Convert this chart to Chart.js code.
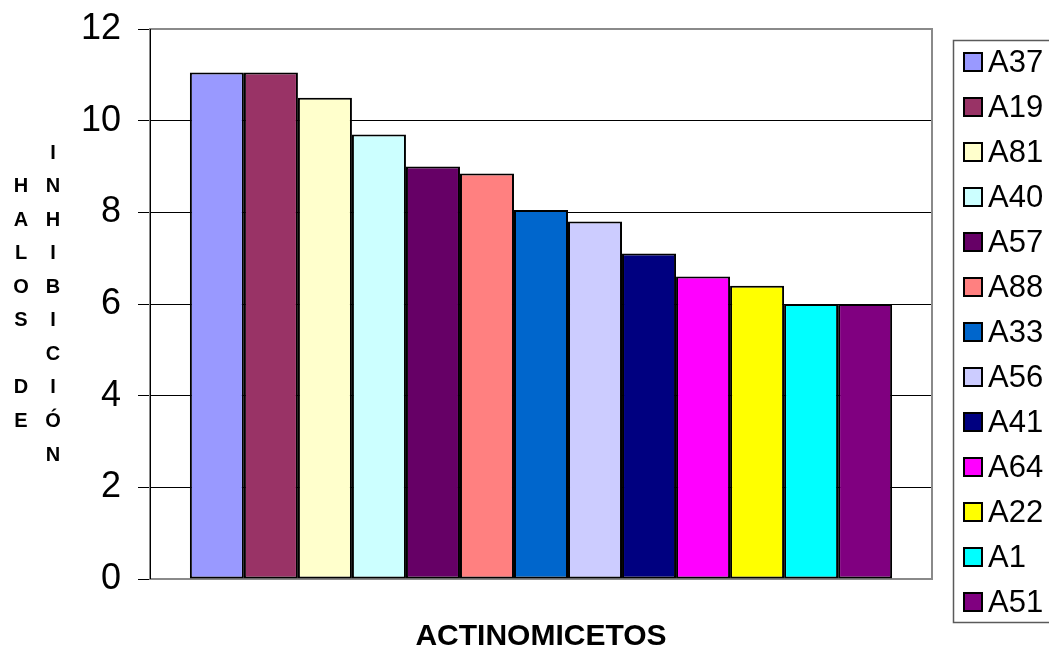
<!DOCTYPE html>
<html>
<head>
<meta charset="utf-8">
<script src="https://cdn.jsdelivr.net/npm/chart.js@4"></script>
<style>
html, body { margin: 0; padding: 0; background: #fff; }
canvas { display: block; }
</style>
</head>
<body>
<canvas id="c" width="1049" height="653"></canvas>
<script>
// Inhibition halo per actinomycete strain
const strains = ['A37', 'A19', 'A81', 'A40', 'A57', 'A88', 'A33', 'A56', 'A41', 'A64', 'A22', 'A1', 'A51'];
const halos = [11.05, 11.05, 10.5, 9.7, 9.0, 8.85, 8.05, 7.8, 7.1, 6.6, 6.4, 6.0, 6.0];
const fills = ['#9999FF', '#993366', '#FFFFCC', '#CCFFFF', '#660066', '#FF8080', '#0066CC',
               '#CCCCFF', '#000080', '#FF00FF', '#FFFF00', '#00FFFF', '#800080'];
const yTicks = [0, 2, 4, 6, 8, 10, 12];
const xTitle = 'ACTINOMICETOS';
// vertical title: two stacked columns, the first one starts one row lower
const yTitleCols = [
  { text: 'HALOS DE', rowOffset: 1 },
  { text: 'INHIBICIÓN', rowOffset: 0 }
];

const FONT = "'Liberation Sans', Arial, sans-serif";

// Plot frame, stacked-letter axis title, category title and legend
const decorations = {
  id: 'decorations',
  beforeDatasetsDraw(chart) {
    const { ctx, chartArea: a } = chart;
    ctx.save();
    ctx.strokeStyle = '#8a8a8a';
    ctx.lineWidth = 2;
    ctx.strokeRect(a.left, a.top, a.right - a.left, a.bottom - a.top);
    ctx.restore();
  },
  afterDraw(chart) {
    const { ctx, chartArea: a } = chart;
    ctx.save();
    ctx.fillStyle = '#000';

    // left axis line
    ctx.strokeStyle = '#000';
    ctx.lineWidth = 1;
    ctx.beginPath();
    ctx.moveTo(a.left + 0.5, a.top);
    ctx.lineTo(a.left + 0.5, a.bottom);
    ctx.stroke();

    // y title, letter by letter
    ctx.font = 'bold 20px ' + FONT;
    ctx.textAlign = 'center';
    ctx.textBaseline = 'middle';
    const colX = [21, 53];
    const rowY0 = 153, rowStep = 33.56;
    yTitleCols.forEach((col, c) => {
      [...col.text].forEach((ch, i) => {
        if (ch === ' ') return;
        ctx.fillText(ch, colX[c], rowY0 + rowStep * (i + col.rowOffset));
      });
    });

    // x title
    ctx.font = 'bold 30px ' + FONT;
    ctx.fillText(xTitle, (a.left + a.right) / 2, 637);

    // legend
    const ds = chart.data.datasets;
    ctx.strokeStyle = '#5a5a5a';
    ctx.lineWidth = 1.5;
    ctx.strokeRect(953.5, 40.5, 200, 582);
    ctx.font = '31px ' + FONT;
    ctx.textAlign = 'left';
    ds.forEach((d, i) => {
      const cy = 62 + 45 * i;
      ctx.fillStyle = d.backgroundColor;
      ctx.fillRect(963, cy - 10, 20, 20);
      ctx.strokeStyle = '#000';
      ctx.lineWidth = 2;
      ctx.strokeRect(964, cy - 9, 18, 18);
      ctx.fillStyle = '#000';
      ctx.fillText(d.label, 988, cy + 1);
    });
    ctx.restore();
  }
};

new Chart(document.getElementById('c'), {
  type: 'bar',
  data: {
    labels: [''],
    datasets: strains.map((s, i) => ({
      label: s,
      data: [halos[i]],
      backgroundColor: fills[i],
      borderColor: '#000',
      borderWidth: 2,
      borderSkipped: false,
      categoryPercentage: 0.898,
      barPercentage: 1
    }))
  },
  options: {
    responsive: false,
    animation: false,
    layout: { padding: { left: 0, top: 29, right: 117, bottom: 74 } },
    plugins: { legend: { display: false }, tooltip: { enabled: false }, title: { display: false } },
    scales: {
      x: { display: false },
      y: {
        min: 0,
        max: 12,
        afterBuildTicks: s => { s.ticks = yTicks.map(v => ({ value: v })); },
        afterFit: s => { s.width = 150; s.paddingTop = 0; s.paddingBottom = 0; },
        ticks: { font: { family: FONT, size: 36 }, color: '#000', padding: 17 },
        grid: {
          color: c => (c.tick && (c.tick.value === 0 || c.tick.value === 12)) ? 'rgba(0,0,0,0)' : '#000',
          lineWidth: 1,
          tickLength: 12,
          tickColor: '#000',
          tickWidth: 1
        },
        border: { display: false }
      }
    }
  },
  plugins: [decorations]
});
</script>
</body>
</html>
